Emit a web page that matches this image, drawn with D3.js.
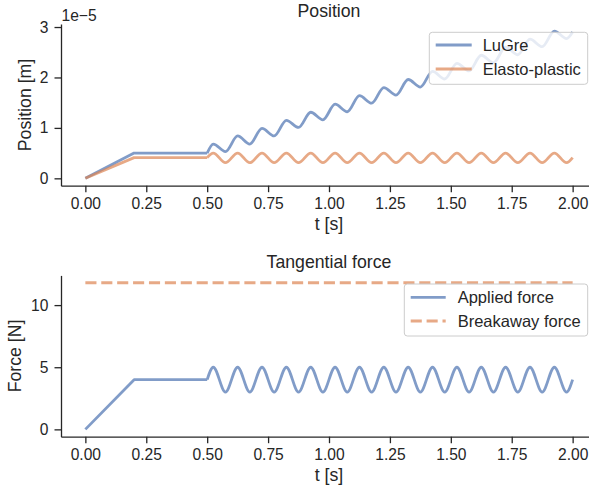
<!DOCTYPE html>
<html>
<head>
<meta charset="utf-8">
<script src="https://cdn.jsdelivr.net/npm/d3@7"></script>
<style>
    body { margin: 0; background: #fff; }
    text { font-family: Arial, "Liberation Sans", sans-serif; fill: #262626; }
</style>
</head>
<body>
<div id="chart"></div>
<script>
// ramp + hold segment (t, value)
var rampT      = [0, 0.2, 0.5];
var lugreRamp  = [0, 0.50, 0.50];   // x 1e-5 m
var elastoRamp = [0, 0.41, 0.41];   // x 1e-5 m
var forceRamp  = [0, 4, 4];         // N

// oscillation part: peaks and troughs
var peakT   = [0.525, 0.625, 0.725, 0.825, 0.925, 1.025, 1.125, 1.225, 1.325, 1.425, 1.525, 1.625, 1.725, 1.825, 1.925];
var troughT = [0.575, 0.675, 0.775, 0.875, 0.975, 1.075, 1.175, 1.275, 1.375, 1.475, 1.575, 1.675, 1.775, 1.875, 1.975];

var lugrePeaks    = [0.68, 0.84, 0.99, 1.15, 1.31, 1.47, 1.64, 1.80, 1.96, 2.12, 2.28, 2.44, 2.60, 2.76, 2.92];
var lugreTroughs  = [0.53, 0.68, 0.84, 1.01, 1.16, 1.32, 1.49, 1.65, 1.81, 1.97, 2.13, 2.29, 2.45, 2.61, 2.77];
var elastoPeaks   = [0.50, 0.50, 0.50, 0.50, 0.50, 0.50, 0.50, 0.50, 0.50, 0.50, 0.50, 0.50, 0.50, 0.50, 0.50];
var elastoTroughs = [0.31, 0.31, 0.31, 0.31, 0.31, 0.31, 0.31, 0.31, 0.31, 0.31, 0.31, 0.31, 0.31, 0.31, 0.31];
var forcePeaks    = [5, 5, 5, 5, 5, 5, 5, 5, 5, 5, 5, 5, 5, 5, 5];
var forceTroughs  = [3, 3, 3, 3, 3, 3, 3, 3, 3, 3, 3, 3, 3, 3, 3];

var endT = 2.0;
var lugreEnd = 2.90, elastoEnd = 0.41, forceEnd = 4.0;
var breakaway = 11.8;

var xTicks = [0, 0.25, 0.5, 0.75, 1.0, 1.25, 1.5, 1.75, 2.0];
var posTicks = [0, 1, 2, 3];
var forceTicks = [0, 5, 10];

var blue = "#4C72B0", orange = "#DD8452";

var W = 589, H = 492;
var svg = d3.select("#chart").append("svg")
    .attr("width", W)
    .attr("height", H);

var x = d3.scaleLinear().domain([-0.1, 2.1]).range([61, 597]);
var yPos = d3.scaleLinear().domain([-0.146, 3.06]).range([185.7, 24]);
var yF = d3.scaleLinear().domain([-0.59, 12.39]).range([436.7, 275.4]);

function rampPts(vals) {
    return rampT.map(function(t, i) { return [t, vals[i]]; });
}
function oscPts(start, peaks, troughs, end) {
    var pts = [[rampT[2], start]];
    peakT.forEach(function(t, i) {
	pts.push([t, peaks[i]]);
	pts.push([troughT[i], troughs[i]]);
    });
    pts.push([endT, end]);
    return pts;
}

function seriesPath(y, ramp, osc) {
    var lin = d3.line().x(function(d){ return x(d[0]); }).y(function(d){ return y(d[1]); });
    var smooth = d3.line().curve(d3.curveMonotoneX)
	.x(function(d){ return x(d[0]); }).y(function(d){ return y(d[1]); });
    return lin(ramp) + smooth(osc);
}

function drawAxes(y, yTicks, yFmt, bottomY) {
    var gx = svg.append("g")
	.attr("transform", "translate(0," + bottomY + ")")
	.call(d3.axisBottom(x).tickValues(xTicks).tickFormat(d3.format(".2f"))
	      .tickSize(6.5).tickSizeOuter(0).tickPadding(6));
    var gy = svg.append("g")
	.attr("transform", "translate(61,0)")
	.call(d3.axisLeft(y).tickValues(yTicks).tickFormat(yFmt)
	      .tickSize(6.5).tickSizeOuter(0).tickPadding(6.2));
    [gx, gy].forEach(function(g) {
	g.selectAll("path, line").attr("stroke", "#262626").attr("stroke-width", 1.3);
	g.selectAll("text").attr("font-size", 15.6).attr("fill", "#262626")
	    .style("font-family", "Arial, 'Liberation Sans', sans-serif");
    });
}

function legend(x0, y0, w, h, items, lineX, textX) {
    var g = svg.append("g");
    g.append("rect")
	.attr("x", x0).attr("y", y0).attr("width", w).attr("height", h)
	.attr("rx", 3)
	.attr("fill", "#fff").attr("fill-opacity", 0.8)
	.attr("stroke", "#cccccc").attr("stroke-width", 1);
    items.forEach(function(it) {
	g.append("line")
	    .attr("x1", lineX[0]).attr("x2", lineX[1])
	    .attr("y1", it.y).attr("y2", it.y)
	    .attr("stroke", it.color).attr("stroke-opacity", 0.7)
	    .attr("stroke-width", 2.8)
	    .attr("stroke-dasharray", it.dash || null);
	g.append("text")
	    .attr("x", textX).attr("y", it.y + 5.8)
	    .attr("font-size", 16.5)
	    .text(it.label);
    });
}

// ---- top: Position
drawAxes(yPos, posTicks, d3.format("d"), 185.7);

svg.append("path")
    .attr("d", seriesPath(yPos, rampPts(lugreRamp), oscPts(lugreRamp[2], lugrePeaks, lugreTroughs, lugreEnd)))
    .attr("fill", "none").attr("stroke", blue).attr("stroke-opacity", 0.7)
    .attr("stroke-width", 2.8).attr("stroke-linejoin", "round");
svg.append("path")
    .attr("d", seriesPath(yPos, rampPts(elastoRamp), oscPts(elastoRamp[2], elastoPeaks, elastoTroughs, elastoEnd)))
    .attr("fill", "none").attr("stroke", orange).attr("stroke-opacity", 0.7)
    .attr("stroke-width", 2.8).attr("stroke-linejoin", "round");

svg.append("text").attr("x", 329).attr("y", 16.7).attr("text-anchor", "middle")
    .attr("font-size", 17.7).text("Position");
svg.append("text").attr("x", 61.5).attr("y", 20.7)
    .attr("font-size", 15.6).text("1e\u22125");
svg.append("text").attr("transform", "translate(31,105) rotate(-90)")
    .attr("text-anchor", "middle").attr("font-size", 17.7).text("Position [m]");
svg.append("text").attr("x", 329).attr("y", 229.7).attr("text-anchor", "middle")
    .attr("font-size", 17.7).text("t [s]");

legend(429.3, 32.3, 158.4, 52, [
    {label: "LuGre", color: blue, y: 45},
    {label: "Elasto-plastic", color: orange, y: 69}
], [435.7, 471.7], 482.7);

// ---- bottom: Tangential force
drawAxes(yF, forceTicks, d3.format("d"), 436.7);

svg.append("line")
    .attr("x1", x(0)).attr("x2", x(endT))
    .attr("y1", yF(breakaway)).attr("y2", yF(breakaway))
    .attr("stroke", orange).attr("stroke-opacity", 0.7)
    .attr("stroke-width", 2.8).attr("stroke-dasharray", "11.1,4.8");
svg.append("path")
    .attr("d", seriesPath(yF, rampPts(forceRamp), oscPts(forceRamp[2], forcePeaks, forceTroughs, forceEnd)))
    .attr("fill", "none").attr("stroke", blue).attr("stroke-opacity", 0.7)
    .attr("stroke-width", 2.8).attr("stroke-linejoin", "round");

svg.append("text").attr("x", 329).attr("y", 267.7).attr("text-anchor", "middle")
    .attr("font-size", 17.7).text("Tangential force");
svg.append("text").attr("transform", "translate(21,356) rotate(-90)")
    .attr("text-anchor", "middle").attr("font-size", 17.7).text("Force [N]");
svg.append("text").attr("x", 329).attr("y", 480.7).attr("text-anchor", "middle")
    .attr("font-size", 17.7).text("t [s]");

legend(404.3, 284, 183.4, 52, [
    {label: "Applied force", color: blue, y: 297.3},
    {label: "Breakaway force", color: orange, y: 321, dash: "11.1,4.8"}
], [410.7, 445.7], 457.7);
</script>
</body>
</html>
